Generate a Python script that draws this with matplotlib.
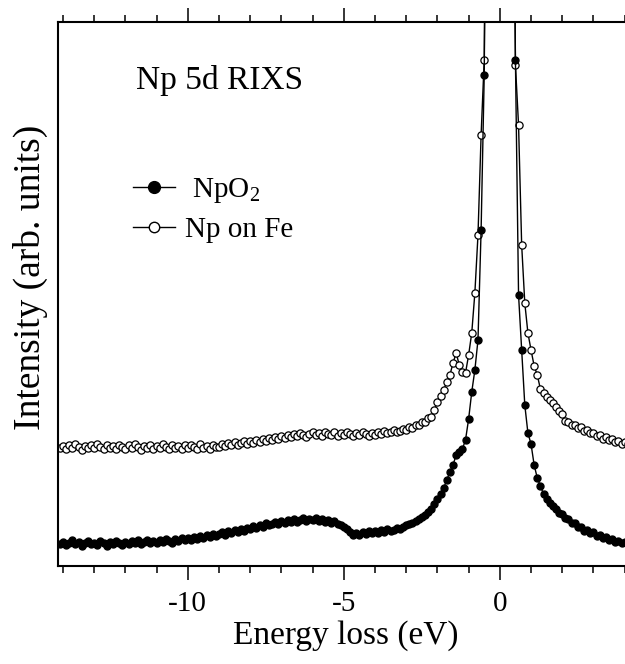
import numpy as np
import matplotlib
matplotlib.use('Agg')
import matplotlib.pyplot as plt

plt.rcParams['font.family'] = 'Liberation Serif'
plt.rcParams['mathtext.fontset'] = 'custom'
plt.rcParams['mathtext.rm'] = 'Liberation Serif'
plt.rcParams['mathtext.it'] = 'Liberation Serif:italic'
plt.rcParams['axes.unicode_minus'] = False

# energy loss grid (eV), 0.1 eV steps from -14.1 to 4.2
energy = np.round(np.arange(-141, 43) * 0.1, 1)

# NpO2 intensity (arb. units)
npo2 = [21,
        23, 20, 22, 25, 21, 23, 19, 22, 24, 21,       # -14.0 .. -13.1
        22, 20, 24, 22, 19, 23, 21, 24, 22, 20,       # -13.0 .. -12.1
        23, 21, 24, 22, 25, 21, 23, 25, 22, 24,       # -12.0 .. -11.1
        22, 25, 23, 26, 24, 22, 26, 24, 27, 25,       # -11.0 .. -10.1
        27, 25, 28, 26, 29, 27, 30, 28, 31, 29,       # -10.0 .. -9.1
        31, 33, 30, 34, 32, 35, 33, 36, 34, 37,       # -9.0 .. -8.1
        36, 39, 37, 40, 38, 42, 40, 41, 43, 41,       # -8.0 .. -7.1
        44, 42, 45, 43, 46, 43, 45, 47, 44, 46,       # -7.0 .. -6.1
        45, 47, 44, 46, 43, 45, 42, 44, 41, 40,       # -6.0 .. -5.1
        38, 36, 33, 30, 32, 30, 33, 31, 34, 32,       # -5.0 .. -4.1
        34, 32, 35, 33, 36, 34, 35, 37, 36, 38,       # -4.0 .. -3.1
        40, 41, 42, 44, 46, 48, 50, 53, 56, 61,       # -3.0 .. -2.1
        66, 71, 77, 85, 93, 100, 110, 113, 116, 125,  # -2.0 .. -1.1
        146, 173, 195, 225, 335, 490, 900, 1500, 2500, 3500,  # -1.0 .. -0.1
        4000, 3500, 2500, 1500, 900, 505, 270, 215, 160, 132,  # 0.0 .. 0.9
        121, 100, 87, 79, 71, 66, 62, 59, 56, 52,     # 1.0 .. 1.9
        51, 47, 46, 42, 42, 38, 38, 34, 35, 32,       # 2.0 .. 2.9
        33, 29, 30, 27, 28, 25, 26, 23, 24, 22,       # 3.0 .. 3.9
        23, 21, 22]                                   # 4.0 .. 4.2

# Np on Fe intensity (arb. units, offset)
np_fe = [117,
         119, 116, 120, 117, 121, 118, 115, 119, 117, 120,
         117, 121, 118, 116, 120, 117, 119, 116, 120, 118,
         116, 120, 117, 121, 118, 115, 119, 117, 120, 116,
         119, 117, 121, 118, 116, 120, 117, 119, 116, 120,
         117, 120, 118, 116, 121, 117, 119, 116, 120, 118,
         118, 121, 119, 122, 120, 123, 120, 122, 124, 121,
         124, 122, 125, 123, 126, 124, 127, 125, 128, 126,
         129, 127, 130, 128, 131, 129, 132, 130, 128, 131,
         133, 130, 132, 129, 133, 131, 130, 133, 129, 132,
         130, 133, 131, 129, 132, 130, 133, 131, 129, 132,
         130, 133, 131, 134, 132, 133, 135, 133, 134, 136,
         135, 138, 137, 140, 140, 143, 143, 147, 148, 155,
         163, 169, 175, 183, 190, 202, 212, 200, 193, 192,
         210, 232, 272, 330, 430, 505, 900, 1500, 2500, 3500,
         4000, 3500, 2500, 1500, 900, 500, 440, 320, 262, 232,
         215, 199, 190, 176, 172, 168, 165, 162, 158, 154,
         151, 144, 143, 140, 140, 137, 138, 134, 135, 132,
         132, 129, 130, 126, 128, 125, 126, 123, 124, 121,
         123, 121, 122]

fig = plt.figure(figsize=(6.25, 6.64), dpi=100)
ax = fig.add_axes([0.0928, 0.1476, 0.9216, 0.8193])

ax.plot(energy, np_fe, '-o', color='black', lw=1.0, ms=5.2,
        mfc='white', mec='black', mew=0.9, label='Np on Fe', zorder=2)
ax.plot(energy, npo2, '-o', color='black', lw=1.0, ms=5.0,
        mfc='black', mec='black', label=' NpO$_2$', zorder=3)

ax.set_xlim(-14.16, 4.3)
ax.set_ylim(-1, 543)

ax.set_xticks([-10, -5, 0])
ax.set_xticks(np.arange(-14, 5, 1), minor=True)
ax.set_yticks([])
ax.tick_params(axis='x', which='both', direction='out', top=True,
               labelsize=21, width=1.1, pad=8)
ax.tick_params(axis='x', which='major', length=10)
ax.tick_params(axis='x', which='minor', length=5)
for s in ax.spines.values():
    s.set_linewidth(1.5)

ax.set_xlabel('Energy loss (eV)', fontsize=24, labelpad=2)
ax.set_ylabel('Intensity (arb. units)', fontsize=27)
ax.yaxis.set_label_coords(-0.018, 0.53)

ax.text(-8.97, 484, 'Np 5d RIXS', fontsize=24, ha='center', va='center')

handles, labels = ax.get_legend_handles_labels()
leg = ax.legend(handles[::-1], labels[::-1], loc='center left',
                bbox_to_anchor=(0.130, 0.655), frameon=False, fontsize=21,
                borderpad=0, borderaxespad=0, handlelength=1.45,
                handletextpad=0.35, labelspacing=0.42)
# bigger markers in the legend keys
leg.legend_handles[0].set_markersize(8.5)
leg.legend_handles[1].set_markersize(7.5)
leg.legend_handles[1].set_markeredgewidth(1.0)

fig.savefig('out.png', dpi=100)
